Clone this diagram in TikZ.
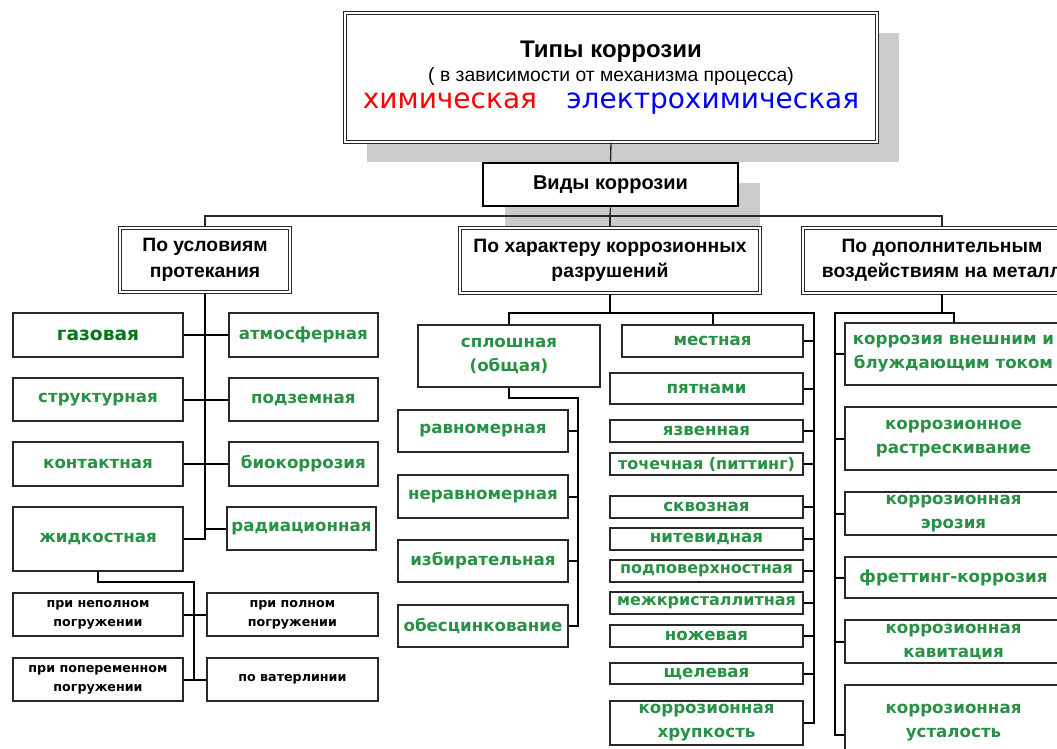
\documentclass[tikz,border=0pt]{standalone}
\usepackage{fontspec}
\setmainfont{DejaVu Sans}
\newfontfamily\headfont{Liberation Sans}
\usetikzlibrary{positioning}
\usetikzlibrary{shadows}
\definecolor{leafC}{RGB}{40,145,70}
\definecolor{gazC}{RGB}{0,120,20}
\definecolor{shadC}{RGB}{204,204,204}
\definecolor{lineC}{RGB}{40,40,40}
\tikzstyle{hdb}=[draw=lineC, double=white, double distance=0.9pt, line width=1.05pt, fill=white, shape=rectangle, align=center, inner sep=2pt, font=\headfont\bfseries\fontsize{14.5}{19}\selectfont]
\tikzstyle{gln}=[draw=lineC, line width=1.4pt, fill=white, shape=rectangle, align=center, inner sep=1pt, text=leafC, font=\bfseries\fontsize{12.5}{18}\selectfont]
\tikzstyle{bln}=[gln, text=black, font=\bfseries\fontsize{9.5}{14}\selectfont]
\tikzstyle{shd}=[drop shadow={shadow xshift=16.5pt, shadow yshift=-15pt, fill=shadC, opacity=1, shadow scale=1}]
\tikzstyle{conn}=[line width=1.5pt, color=black]
\tikzstyle{tconn}=[line width=1pt, color=lineC]
\tikzset{wh/.style 2 args={minimum width=#1*0.75pt, minimum height=#2*0.75pt}}
\def\hdn{\node[style=hdb]}
\def\gln{\node[style=gln]}
\def\bln{\node[style=bln]}
\def\conn{\draw[style=conn]}

\begin{document}
\begin{tikzpicture}[x=0.75pt, y=-0.75pt]
      \useasboundingbox (0,0) rectangle (1057,749);
      % top
      \hdn (tipy) at (611,77.5) [wh={532}{129}, shd]
        {{\fontsize{18}{22}\selectfont Типы коррозии}\\[-1pt]
         {\mdseries\fontsize{14.5}{19}\selectfont ( в зависимости от механизма процесса)}\\[1pt]
         {\normalfont\fontsize{21}{25}\selectfont\color{red}химическая\hspace{22pt}\color{blue}электрохимическая}};
      \node (vidy) at (610.5,184.5) [draw=black, line width=2pt, fill=white, wh={255}{43}, shd,
        font=\headfont\bfseries\fontsize{15}{18}\selectfont] {Виды коррозии};
      \hdn (uslov)  at (205,260)   [wh={170}{64}] {По условиям\\протекания};
      \hdn (harakt) at (610,260.5) [wh={300}{65}] {По характеру коррозионных\\разрушений};
      \hdn (dopol)  at (942,260.5) [wh={278}{65}] {По дополнительным\\воздействиям на металл};

      \coordinate (vbus) at (610,216);
      \draw[tconn] (tipy.south) -- (vidy.north);
      \draw[tconn] (vidy.south) -- (vbus);
      \draw[tconn] (harakt.north) -- (vbus);
      \draw[tconn] (uslov.north) |- (vbus) -| (dopol.north);

      % po usloviyam
      \gln (gaz)    at (98,335)    [wh={170}{44}, text=gazC, font=\bfseries\fontsize{14}{18}\selectfont] {газовая};
      \gln (atm)    [right=33pt of gaz, wh={149}{44}] {атмосферная};
      \gln (struk)  at (98,399.5)  [wh={170}{43}] {структурная};
      \gln (podz)   [right=33pt of struk, wh={149}{43}] {подземная};
      \gln (kont)   at (98,464)    [wh={170}{44}] {контактная};
      \gln (bio)    [right=33pt of kont, wh={149}{44}] {биокоррозия};
      \gln (zhidk)  at (98,539)    [wh={170}{64}] {жидкостная};
      \gln (radi)   at (301.5,528.5) [wh={149}{43}] {радиационная};

      \bln (nepol)  at (98,614.5)  [wh={170}{43}] {при неполном\\погружении};
      \bln (polnom) [right=16.5pt of nepol, wh={171}{43}] {при полном\\погружении};
      \bln (popere) at (98,679.5)  [wh={170}{43}] {при попеременном\\погружении};
      \bln (vater)  [right=16.5pt of popere, wh={171}{43}] {по ватерлинии};

      \conn (uslov.south) -- (uslov.south |- zhidk.east) -- (zhidk.east);
      \conn (gaz.east) -- (atm.west);
      \conn (struk.east) -- (podz.west);
      \conn (kont.east) -- (bio.west);
      \conn (radi.west) -- (radi.west -| uslov.south);
      \coordinate (zbus) at (194,582);
      \conn (zhidk.south) |- (zbus) -- (zbus |- popere.east);
      \conn (nepol.east) -- (polnom.west);
      \conn (popere.east) -- (vater.west);

      % po harakteru
      \gln (splosh) at (509,356)   [wh={182}{62}] {сплошная\\(общая)};
      \gln (ravn)   at (483,431)   [wh={170}{42}] {равномерная};
      \gln (neravn) at (483,496.5) [wh={170}{43}] {неравномерная};
      \gln (izbir)  at (483,561)   [wh={170}{42}] {избирательная};
      \gln (obes)   at (483,626)   [wh={170}{42}] {обесцинкование};

      \gln (mestn)  at (712.5,341) [wh={181}{32}] {местная};
      \gln (pyat)   at (706.5,388.5) [wh={193}{31}] {пятнами};
      \gln (yazv)   at (706.5,431) [wh={193}{22}] {язвенная};
      \gln (toch)   at (706.5,464) [wh={193}{22}, font=\bfseries\fontsize{12}{18}\selectfont] {точечная (питтинг)};
      \gln (skvoz)  at (706.5,507) [wh={193}{22}] {сквозная};
      \gln (nitev)  at (706.5,539) [wh={193}{22}] {нитевидная};
      \gln (podpov) at (706.5,571) [wh={193}{22}, font=\bfseries\fontsize{12}{18}\selectfont] {подповерхностная};
      \gln (mezhkr) at (706.5,603) [wh={193}{22}, font=\bfseries\fontsize{12}{18}\selectfont] {межкристаллитная};
      \gln (nozh)   at (706.5,636) [wh={193}{22}] {ножевая};
      \gln (schel)  at (706.5,673.5) [wh={193}{21}] {щелевая};
      \gln (krhr)   at (706.5,723) [wh={193}{44}] {коррозионная\\хрупкость};

      \coordinate (mbus) at (814,313);
      \conn (harakt.south) -- (harakt.south |- mbus);
      \conn (splosh.north) |- (mbus) |- (krhr.east);
      \conn (mestn.north) -- (mestn.north |- mbus);
      \foreach \n in {mestn,pyat,yazv,toch,skvoz,nitev,podpov,mezhkr,nozh,schel}
        \conn (\n.east) -- (\n.east -| mbus);
      \coordinate (sbus) at (578,398);
      \conn (splosh.south) |- (sbus) |- (obes.east);
      \foreach \n in {ravn,neravn,izbir}
        \conn (\n.east) -- (\n.east -| sbus);

      % po dopolnitelnym
      \gln (vnesh)  at (953.5,354)   [wh={217}{62}] {коррозия внешним и\\блуждающим током};
      \gln (rastr)  at (953.5,438.5) [wh={217}{63}] {коррозионное\\растрескивание};
      \gln (eroz)   at (953.5,513.5) [wh={217}{43}] {коррозионная\\эрозия};
      \gln (fret)   at (953.5,577.5) [wh={217}{41}] {фреттинг-коррозия};
      \gln (kavit)  at (953.5,641.5) [wh={217}{43}] {коррозионная\\кавитация};
      \gln (ustal)  at (953.5,723)   [wh={217}{76}] {коррозионная\\усталость};

      \coordinate (dbus) at (835,313);
      \coordinate (dend) at ([yshift=-9pt]ustal.west);
      \conn (dopol.south) -- (dopol.south |- dbus);
      \conn (vnesh.north) |- (dbus) |- (dend);
      \foreach \n in {vnesh,rastr,eroz,fret,kavit}
        \conn (\n.west) -- (\n.west -| dbus);
\end{tikzpicture}
\end{document}
